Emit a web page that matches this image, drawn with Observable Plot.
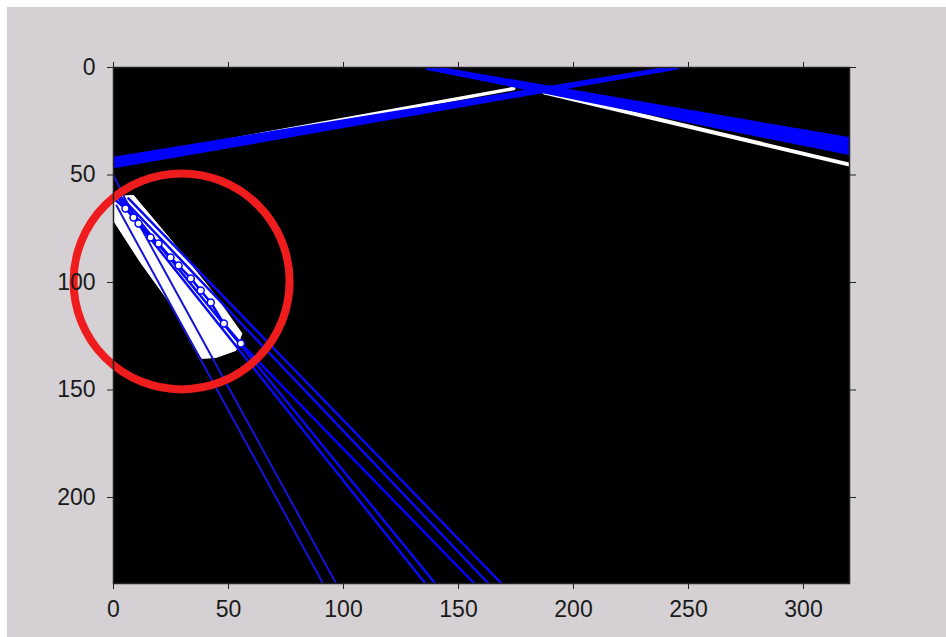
<!DOCTYPE html>
<html><head><meta charset="utf-8">
<script src="https://cdn.jsdelivr.net/npm/d3@7"></script>
<script src="https://cdn.jsdelivr.net/npm/@observablehq/plot@0.6"></script>
<style>
html,body{margin:0;padding:0;background:#fff;}
#page{position:absolute;left:0;top:0;width:946px;height:637px;box-sizing:border-box;background:#d4d0d4;border-top:7px solid #fff;border-left:7px solid #fff;}
#chart{position:absolute;left:0;top:0;}
</style></head><body>
<div id="page"></div><div id="chart"></div>
<script>
const xTicks = [0, 50, 100, 150, 200, 250, 300];
const yTicks = [0, 50, 100, 150, 200];

// rising blue band (upper left)
const bandA = [
  {line: "A1", x: 0, y: 42.4}, {line: "A1", x: 244, y: 0},
  {line: "A2", x: 0, y: 44.2}, {line: "A2", x: 244, y: 0},
  {line: "A3", x: 0, y: 46.0}, {line: "A3", x: 245, y: 0}
];
// descending blue band (upper right)
const bandB = [
  {line: "B1", x: 136.9, y: 0}, {line: "B1", x: 320, y: 33.6},
  {line: "B2", x: 136.9, y: 0}, {line: "B2", x: 320, y: 35.6},
  {line: "B3", x: 136.9, y: 0}, {line: "B3", x: 320, y: 37.6},
  {line: "B4", x: 136.9, y: 0}, {line: "B4", x: 320, y: 39.6}
];
// fan of blue lines (lower left)
const fanThin = [
  {line: "c1", x: 1.3, y: 64.2}, {line: "c1", x: 91.1, y: 240},
  {line: "c2", x: 0, y: 50.2}, {line: "c2", x: 5.2, y: 61.4}, {line: "c2", x: 96.8, y: 240}
];
const fanBands = [
  {line: "c3a", x: 0, y: 58.1}, {line: "c3a", x: 135.6, y: 240},
  {line: "c3b", x: 2.2, y: 59.5}, {line: "c3b", x: 139.9, y: 240},
  {line: "c4b", x: 6.5, y: 60.9}, {line: "c4b", x: 168.7, y: 240},
  {line: "c4c", x: 3.1, y: 60.0}, {line: "c4c", x: 163.0, y: 240}
];
const markerLine = [
  {x: 0, y: 60.9}, {x: 5.2, y: 65.6}, {x: 8.7, y: 69.8}, {x: 10.9, y: 72.6},
  {x: 16.1, y: 79.1}, {x: 19.6, y: 81.9}, {x: 24.8, y: 88.4}, {x: 28.3, y: 92.1},
  {x: 33.6, y: 98.1}, {x: 37.9, y: 103.7}, {x: 42.3, y: 109.3}, {x: 48.0, y: 119.1},
  {x: 55.4, y: 128.4}, {x: 156.9, y: 240}
];
const markers = [
  {x: 5.2, y: 65.6}, {x: 8.7, y: 69.8}, {x: 10.9, y: 72.6}, {x: 16.1, y: 79.1},
  {x: 19.6, y: 81.9}, {x: 24.8, y: 88.4}, {x: 28.3, y: 92.1}, {x: 33.6, y: 98.1},
  {x: 37.9, y: 103.7}, {x: 42.3, y: 109.3}, {x: 48.0, y: 119.1}, {x: 55.4, y: 128.4}
];
// white pixel regions
const whiteA = [{x: 44, y: 35.0}, {x: 174, y: 9.8}];
const whiteB = [{x: 187.4, y: 11.6}, {x: 320, y: 45.2}];
const whiteC = [
  {x: 0, y: 60.0}, {x: 8.7, y: 59.5}, {x: 24.8, y: 80.0}, {x: 42.3, y: 103.3},
  {x: 55.8, y: 123.7}, {x: 53.2, y: 131.6}, {x: 44.5, y: 134.9}, {x: 38.4, y: 135.3},
  {x: 25.3, y: 110.7}, {x: 11.8, y: 90.7}, {x: 0, y: 71.2}
];
// red annotation circle
const circleCenter = [{x: 29.6, y: 99.5}];

const plot = Plot.plot({
  width: 946, height: 637,
  marginLeft: 113, marginRight: 97, marginTop: 67, marginBottom: 54,
  style: {background: "transparent", fontFamily: "'Liberation Sans', Arial, sans-serif", fontSize: "23px", color: "#1a1a1a"},
  x: {domain: [0, 320]},
  y: {domain: [0, 240], reverse: true},
  marks: [
    Plot.frame({fill: "black"}),
    Plot.line(whiteC, {x: "x", y: "y", fill: "white", stroke: "white", strokeWidth: 1}),
    Plot.line(whiteA, {x: "x", y: "y", stroke: "white", strokeWidth: 3.5, clip: true}),
    Plot.line(whiteB, {x: "x", y: "y", stroke: "white", strokeWidth: 4, clip: true}),
    Plot.line(bandA, {x: "x", y: "y", z: "line", stroke: "#0000ff", strokeWidth: 4, clip: true}),
    Plot.line(bandB, {x: "x", y: "y", z: "line", stroke: "#0000ff", strokeWidth: 5, clip: true}),
    Plot.line(fanThin, {x: "x", y: "y", z: "line", stroke: "#1414d8", strokeWidth: 2, clip: true}),
    Plot.line(fanBands, {x: "x", y: "y", z: "line", stroke: "#0a0af0", strokeWidth: 2.5, clip: true}),
    Plot.line(markerLine, {x: "x", y: "y", stroke: "#0000ff", strokeWidth: 2.5, clip: true}),
    Plot.dot(markers, {x: "x", y: "y", r: 3.5, stroke: "#0000ff", fill: "white", strokeWidth: 1.5}),
    Plot.dot(circleCenter, {x: "x", y: "y", r: 108, stroke: "#ee1c1c", strokeWidth: 8, fill: "none"}),
    Plot.axisX(xTicks, {anchor: "bottom", tickSize: 6, tickPadding: 11, label: null, stroke: "#222"}),
    Plot.axisX(xTicks, {anchor: "top", tickSize: 6, tickFormat: () => "", label: null, stroke: "#222"}),
    Plot.axisY(yTicks, {anchor: "left", tickSize: 6, tickPadding: 12, label: null, stroke: "#222"}),
    Plot.axisY(yTicks, {anchor: "right", tickSize: 6, tickFormat: () => "", label: null, stroke: "#222"}),
    Plot.frame({stroke: "#222", strokeWidth: 1.5})
  ]
});
document.getElementById("chart").appendChild(plot);
</script>
</body></html>
